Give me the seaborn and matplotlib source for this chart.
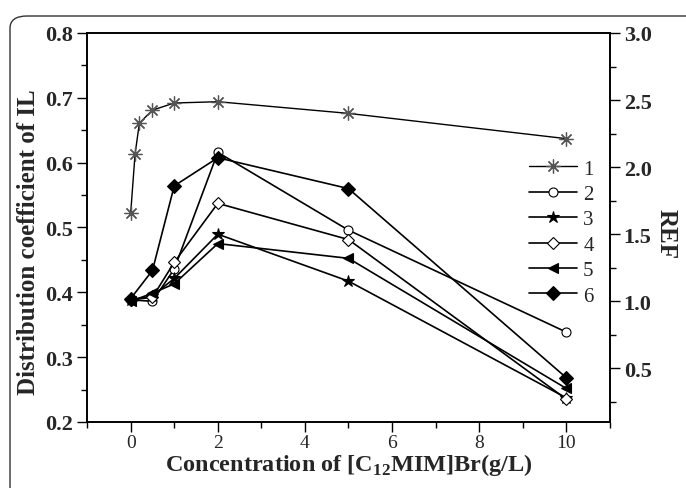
import numpy as np
import pandas as pd
import seaborn as sns
import matplotlib.pyplot as plt
from matplotlib.patches import FancyBboxPatch
from matplotlib.ticker import MultipleLocator

# concentration of [C12MIM]Br (g/L)
conc_il = [0, 0.1, 0.2, 0.5, 1, 2, 5, 10]
kd_il = [0.522, 0.613, 0.661, 0.681, 0.692, 0.694, 0.676, 0.637]   # series 1, left axis

conc = [0, 0.5, 1, 2, 5, 10]
ref_2 = [1.01, 1.00, 1.24, 2.11, 1.53, 0.77]
ref_3 = [1.01, 1.04, 1.17, 1.50, 1.15, 0.28]
ref_4 = [1.01, 1.03, 1.29, 1.73, 1.46, 0.27]
ref_5 = [1.00, 1.06, 1.13, 1.43, 1.32, 0.35]
ref_6 = [1.02, 1.23, 1.86, 2.07, 1.84, 0.43]
labels = ['1', '2', '3', '4', '5', '6']

sns.set_style('ticks')
plt.rcParams['font.family'] = ['Liberation Serif', 'DejaVu Serif']
plt.rcParams['mathtext.fontset'] = 'custom'
plt.rcParams['mathtext.rm'] = 'Liberation Serif'
plt.rcParams['mathtext.bf'] = 'Liberation Serif:bold'

fig = plt.figure(figsize=(6.86, 4.89), dpi=100)
ax = fig.add_axes([0.127, 0.135, 0.762, 0.7955])
ax2 = ax.twinx()

sns.lineplot(x=conc_il, y=kd_il, ax=ax, color='black', lw=1.0, sort=False, errorbar=None,
             marker=(8, 2, 0), markersize=10, markeredgecolor='#555555', markeredgewidth=0.9,
             legend=False)

styles = [
    (ref_2, 'o', 6.5, 'white'),
    (ref_3, '*', 9, 'black'),
    (ref_4, 'D', 6, 'white'),
    (ref_5, '<', 7, 'black'),
    (ref_6, 'D', 7, 'black'),
]
for ref, mk, ms, fc in styles:
    df = pd.DataFrame({'conc': conc, 'ref': ref})
    sns.lineplot(data=df, x='conc', y='ref', ax=ax2, color='black', lw=1.2, sort=False,
                 errorbar=None, marker=mk, markersize=ms, markerfacecolor=fc,
                 markeredgecolor='black', markeredgewidth=0.8, legend=False)

ax.set_xlim(-1, 11)
ax.set_ylim(0.2, 0.8)
ax2.set_ylim(0.1, 3.0)
ax.xaxis.set_major_locator(MultipleLocator(2))
ax.xaxis.set_minor_locator(MultipleLocator(1))
ax.yaxis.set_major_locator(MultipleLocator(0.1))
ax.yaxis.set_minor_locator(MultipleLocator(0.05))
ax2.yaxis.set_major_locator(MultipleLocator(0.5))
ax2.yaxis.set_minor_locator(MultipleLocator(0.25))

ax.tick_params(axis='both', which='major', direction='out', length=7, width=1, color='black')
ax.tick_params(axis='both', which='minor', direction='out', length=4, width=1, color='black')
ax2.tick_params(axis='y', which='major', direction='out', length=7, width=1, color='black')
ax2.tick_params(axis='y', which='minor', direction='out', length=4, width=1, color='black')
ax.tick_params(axis='x', labelsize=14, pad=2)
ax.tick_params(axis='y', labelsize=16, pad=3)
ax2.tick_params(axis='y', labelsize=16, pad=3)
ax.yaxis.set_major_formatter(plt.FormatStrFormatter('%.1f'))
ax2.yaxis.set_major_formatter(plt.FormatStrFormatter('%.1f'))
for t in ax.get_yticklabels() + ax2.get_yticklabels():
    t.set_fontweight('bold')

for a in (ax, ax2):
    for s in a.spines.values():
        s.set_linewidth(1.2)
        s.set_color('black')

ax.set_xlabel(r'Concentration of [C$_{\mathbf{12}}$MIM]Br(g/L)', fontsize=17.5,
              fontweight='bold', labelpad=0)
ax.set_ylabel('Distribution coefficient of IL', fontsize=18, fontweight='bold')
ax.yaxis.set_label_coords(-0.09, 0.465)
ax2.set_ylabel('REF', fontsize=18, fontweight='bold', rotation=270, labelpad=22)
ax2.yaxis.set_label_coords(1.13, 0.485)

handles = ax.get_lines() + ax2.get_lines()
ax2.legend(handles, labels, loc='upper left', bbox_to_anchor=(529 / 686, 1 - 160 / 489),
           bbox_transform=fig.transFigure, frameon=False, fontsize=15, handlelength=2.3,
           handletextpad=0.3, labelspacing=0.28, borderpad=0, borderaxespad=0)

frame = FancyBboxPatch((10 / 686, -0.2), 1.2, 0.2 + (1 - 17 / 489),
                       boxstyle='round,pad=0,rounding_size=0.025', transform=fig.transFigure,
                       fill=False, ec='#333333', lw=1.0, clip_on=False)
fig.add_artist(frame)

fig.savefig('out.png', dpi=100)
